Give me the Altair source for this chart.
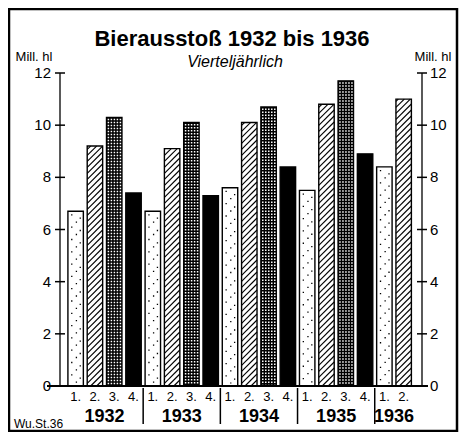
import altair as alt
import pandas as pd

# ---------------- data ----------------
years = ["1932", "1933", "1934", "1935", "1936"]
quarter_labels = ["1.", "2.", "3.", "4."]
beer_1932 = [6.7, 9.2, 10.3, 7.4]
beer_1933 = [6.7, 9.1, 10.1, 7.3]
beer_1934 = [7.6, 10.1, 10.7, 8.4]
beer_1935 = [7.5, 10.8, 11.7, 8.9]
beer_1936 = [8.4, 11.0]
y_ticks = [0, 2, 4, 6, 8, 10, 12]

title_text = "Bierausstoß 1932 bis 1936"
subtitle_text = "Vierteljährlich"
unit_text = "Mill. hl"
source_text = "Wu.St.36"

# ---------------- layout constants ----------------
W, H = 362, 313
X_DOMAIN = [-0.31, 18.45]
Y_DOMAIN = [0, 12]
PX_X = W / (X_DOMAIN[1] - X_DOMAIN[0])
PX_Y = H / (Y_DOMAIN[1] - Y_DOMAIN[0])
FONT = "Liberation Sans, Arial, sans-serif"

xs = alt.Scale(domain=X_DOMAIN, nice=False, zero=False)
ys = alt.Scale(domain=Y_DOMAIN, nice=False, zero=False)

series = [beer_1932, beer_1933, beer_1934, beer_1935, beer_1936]
rows = []
for yi, (yr, vals) in enumerate(zip(years, series)):
    for qi, v in enumerate(vals):
        slot = yi * 4 + qi
        rows.append(dict(year=yr, q=quarter_labels[qi], qi=qi, value=v,
                         x0=slot + 0.1, x1=slot + 0.9, xc=slot + 0.5))
bars = pd.DataFrame(rows)

# year label positions (centre of each group's bars)
year_rows = []
for yi, (yr, vals) in enumerate(zip(years, series)):
    year_rows.append(dict(year=yr, xc=yi * 4 + len(vals) / 2))
year_df = pd.DataFrame(year_rows)
sep_df = pd.DataFrame({"xs": [4 * i for i in range(1, len(years))]})

# ---------- textures ----------
# Q2 diagonal hatching
hatch = []
k = PX_X / PX_Y          # 45 degrees in data units
step = 6 / PX_Y
for r in rows:
    if r["qi"] != 1:
        continue
    xl, xr, top = r["x0"], r["x1"], r["value"]
    c = -(xr - xl) * k
    while c < top:
        lo = max(xl, xl + (0 - c) / k)
        hi = min(xr, xl + (top - c) / k)
        if lo < hi:
            hatch.append(dict(hx0=lo, hx1=hi, hy0=c + (lo - xl) * k, hy1=c + (hi - xl) * k))
        c += step
hatch_df = pd.DataFrame(hatch)

# Q3 grid holes (white dashed columns on black)
holes = []
for r in rows:
    if r["qi"] != 2:
        continue
    for j in range(5):
        holes.append(dict(hx=r["x0"] + (1.9 + 3 * j) / PX_X, top=r["value"] - 1.5 / PX_Y))
holes_df = pd.DataFrame(holes)

# Q1 sparse dots
dots = []
for r in rows:
    if r["qi"] != 0:
        continue
    for j, f in enumerate([0.25, 0.55, 0.8]):
        dots.append(dict(dx=r["x0"] + f * (r["x1"] - r["x0"]), top=r["value"] - 3 / PX_Y, col=j))
dots_df = pd.DataFrame(dots)

ticks_df = pd.DataFrame({"t": y_ticks})
axis_df = pd.DataFrame({"lo": [Y_DOMAIN[0]], "hi": [Y_DOMAIN[1]]})

X = lambda f: alt.X(f, scale=xs, axis=None)
Y = lambda f: alt.Y(f, scale=ys, axis=None)

bar_layer = alt.Chart(bars).mark_bar(stroke="black", strokeWidth=1.4).encode(
    x=X("x0:Q"), x2="x1:Q", y=Y("value:Q"), y2=alt.datum(0),
    fill=alt.Fill("q:N", scale=alt.Scale(domain=quarter_labels,
                                          range=["white", "white", "black", "black"]), legend=None),
)

hatch_layer = alt.Chart(hatch_df).mark_rule(color="black", strokeWidth=1.1).encode(
    x=X("hx0:Q"), x2="hx1:Q", y=Y("hy0:Q"), y2="hy1:Q")

holes_layer = alt.Chart(holes_df).mark_rule(color="white", strokeWidth=1.5,
                                            strokeDash=[1.5, 1.5]).encode(
    x=X("hx:Q"), y=Y("top:Q"), y2=alt.datum(0.05))

dot_layers = []
for j, off in enumerate([0, 5, 9]):
    dot_layers.append(
        alt.Chart(dots_df[dots_df.col == j]).mark_rule(color="black", strokeWidth=1.3,
                                                        strokeDash=[1.3, 11], strokeDashOffset=off).encode(
            x=X("dx:Q"), y=Y("top:Q"), y2=alt.datum(0.1)))

# axes drawn by hand
left_axis = alt.Chart(axis_df).mark_rule(color="black", strokeWidth=1.3).encode(
    x=alt.value(0), y=Y("lo:Q"), y2="hi:Q")
right_axis = alt.Chart(axis_df).mark_rule(color="black", strokeWidth=1.3).encode(
    x=alt.value(W), y=Y("lo:Q"), y2="hi:Q")
left_ticks = alt.Chart(ticks_df).mark_rule(color="black", strokeWidth=1.5).encode(
    x=alt.value(-5), x2=alt.value(5), y=Y("t:Q"))
right_ticks = alt.Chart(ticks_df).mark_rule(color="black", strokeWidth=1.5).encode(
    x=alt.value(W - 5), x2=alt.value(W + 5), y=Y("t:Q"))
baseline = alt.Chart(axis_df).mark_rule(color="black", strokeWidth=2.2).encode(
    x=alt.value(-13), x2=alt.value(W + 6), y=Y("lo:Q"))

left_labels = alt.Chart(ticks_df).mark_text(align="right", baseline="middle", font=FONT,
                                            fontSize=15, dx=-9).encode(
    x=alt.value(0), y=Y("t:Q"), text="t:Q")
right_labels = alt.Chart(ticks_df).mark_text(align="left", baseline="middle", font=FONT,
                                             fontSize=15, dx=8).encode(
    x=alt.value(W), y=Y("t:Q"), text="t:Q")

q_labels = alt.Chart(bars).mark_text(baseline="alphabetic", font=FONT, fontSize=13).encode(
    x=X("xc:Q"), y=alt.value(H + 15), text="q:N")
year_labels = alt.Chart(year_df).mark_text(baseline="alphabetic", font=FONT, fontSize=18,
                                           fontWeight="bold").encode(
    x=X("xc:Q"), y=alt.value(H + 36), text="year:N")
separators = alt.Chart(sep_df).mark_rule(color="black", strokeWidth=1.5).encode(
    x=X("xs:Q"), y=alt.value(H + 2), y2=alt.value(H + 38))

title_df = pd.DataFrame({"t": [title_text]})
sub_df = pd.DataFrame({"t": [subtitle_text]})
unit_df = pd.DataFrame({"t": [unit_text]})
src_df = pd.DataFrame({"t": [source_text]})

title = alt.Chart(title_df).mark_text(font=FONT, fontSize=22,
                                      fontWeight="bold", baseline="alphabetic").encode(
    x=alt.value(172), y=alt.value(-27), text="t:N")
subtitle = alt.Chart(sub_df).mark_text(font=FONT, fontSize=16,
                                       fontStyle="italic", baseline="alphabetic").encode(
    x=alt.value(175), y=alt.value(-6), text="t:N")
unit_left = alt.Chart(unit_df).mark_text(font=FONT, fontSize=13, baseline="alphabetic").encode(
    x=alt.value(-26), y=alt.value(-12), text="t:N")
unit_right = alt.Chart(unit_df).mark_text(font=FONT, fontSize=13, baseline="alphabetic").encode(
    x=alt.value(W + 11), y=alt.value(-12), text="t:N")
source = alt.Chart(src_df).mark_text(font=FONT, fontSize=12, align="left",
                                     baseline="alphabetic").encode(
    x=alt.value(-46), y=alt.value(H + 42), text="t:N")

frame = alt.Chart(axis_df).mark_rect(fill="transparent", stroke="black", strokeWidth=2.5).encode(
    x=alt.value(-51), x2=alt.value(W + 35), y=alt.value(-64), y2=alt.value(H + 45))

chart = alt.layer(
    bar_layer, hatch_layer, holes_layer, *dot_layers,
    left_axis, right_axis, left_ticks, right_ticks, baseline,
    left_labels, right_labels, q_labels, year_labels, separators,
    title, subtitle, unit_left, unit_right, source, frame,
).properties(
    width=W, height=H,
    autosize=alt.AutoSizeParams(type="none"),
    padding={"left": 52, "top": 65, "right": 37, "bottom": 46},
).configure_view(stroke=None)

chart.save("out.html", embed_options={"renderer": "svg", "actions": False})
